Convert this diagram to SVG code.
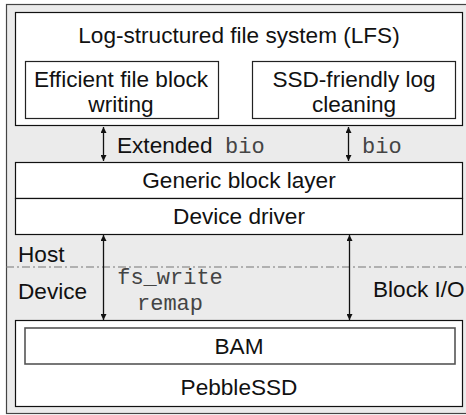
<svg xmlns="http://www.w3.org/2000/svg" width="466" height="415" viewBox="0 0 466 415">
  <style>
    .frame { fill: #ebebeb; stroke: #444; stroke-width: 1.2; }
    .box { fill: #ffffff; stroke: #111; stroke-width: 1.2; }
    .inner { fill: #ffffff; stroke: #222; stroke-width: 1.2; }
    .bam { fill: #ffffff; stroke: #555; stroke-width: 1.6; }
    .t { font-family: "Liberation Sans", Arial, Helvetica, sans-serif; font-size: 22.6px; fill: #111; }
    .c { text-anchor: middle; }
    .m { font-family: "Liberation Mono", "Courier New", monospace; font-size: 22px; fill: #444; }
    .arrow { stroke: #111; stroke-width: 1.3; fill: none; marker-start: url(#head); marker-end: url(#head); }
    .divider { stroke: #777; stroke-width: 1.2; stroke-dasharray: 8 3 2 3; fill: none; }
  </style>
  <defs>
    <marker id="head" viewBox="0 0 10 10" refX="10" refY="5" markerUnits="userSpaceOnUse" markerWidth="8" markerHeight="6" orient="auto-start-reverse">
      <path d="M0,0 L10,5 L0,10 z" fill="#111"/>
    </marker>
  </defs>

  <!-- background frame -->
  <rect class="frame" x="6.5" y="4.5" width="464" height="409"/>

  <!-- host / device boundary -->
  <line class="divider" x1="6" y1="267" x2="466" y2="267"/>

  <g id="lfs">
    <rect class="box" x="15.5" y="12.5" width="447" height="113"/>
    <text class="t c" x="239" y="43">Log-structured file system (LFS)</text>
  </g>

  <g id="block-writing">
    <rect class="inner" x="25.5" y="61.5" width="193" height="57"/>
    <text class="t c" x="121" y="87">Efficient file block</text>
    <text class="t c" x="121" y="112">writing</text>
  </g>

  <g id="log-cleaning">
    <rect class="inner" x="252.5" y="61.5" width="203" height="57"/>
    <text class="t c" x="354" y="87">SSD-friendly log</text>
    <text class="t c" x="354" y="112">cleaning</text>
  </g>

  <g id="generic-block-layer">
    <rect class="box" x="15.5" y="162.5" width="447" height="36"/>
    <text class="t c" x="239" y="188">Generic block layer</text>
  </g>

  <g id="device-driver">
    <rect class="box" x="15.5" y="198.5" width="447" height="36"/>
    <text class="t c" x="239" y="224">Device driver</text>
  </g>

  <g id="pebblessd">
    <rect class="box" x="15.5" y="320.5" width="447" height="86"/>
    <text class="t c" x="239" y="395">PebbleSSD</text>
  </g>

  <g id="bam">
    <rect class="bam" x="25" y="328" width="430" height="36"/>
    <text class="t c" x="239" y="354">BAM</text>
  </g>

  <g id="connectors">
    <line class="arrow" x1="103.5" y1="127" x2="103.5" y2="161"/>
    <line class="arrow" x1="348.5" y1="127" x2="348.5" y2="161"/>
    <line class="arrow" x1="103.5" y1="235" x2="103.5" y2="320"/>
    <line class="arrow" x1="349.5" y1="235" x2="349.5" y2="320"/>
  </g>

  <g id="labels">
    <text class="t" x="117" y="153">Extended</text>
    <text class="m" x="225" y="153">bio</text>
    <text class="m" x="362" y="153">bio</text>
    <text class="t" x="18" y="262">Host</text>
    <text class="t" x="18" y="299">Device</text>
    <text class="m c" x="170" y="284">fs_write</text>
    <text class="m c" x="170" y="310">remap</text>
    <text class="t" x="373" y="297">Block I/O</text>
  </g>
</svg>
